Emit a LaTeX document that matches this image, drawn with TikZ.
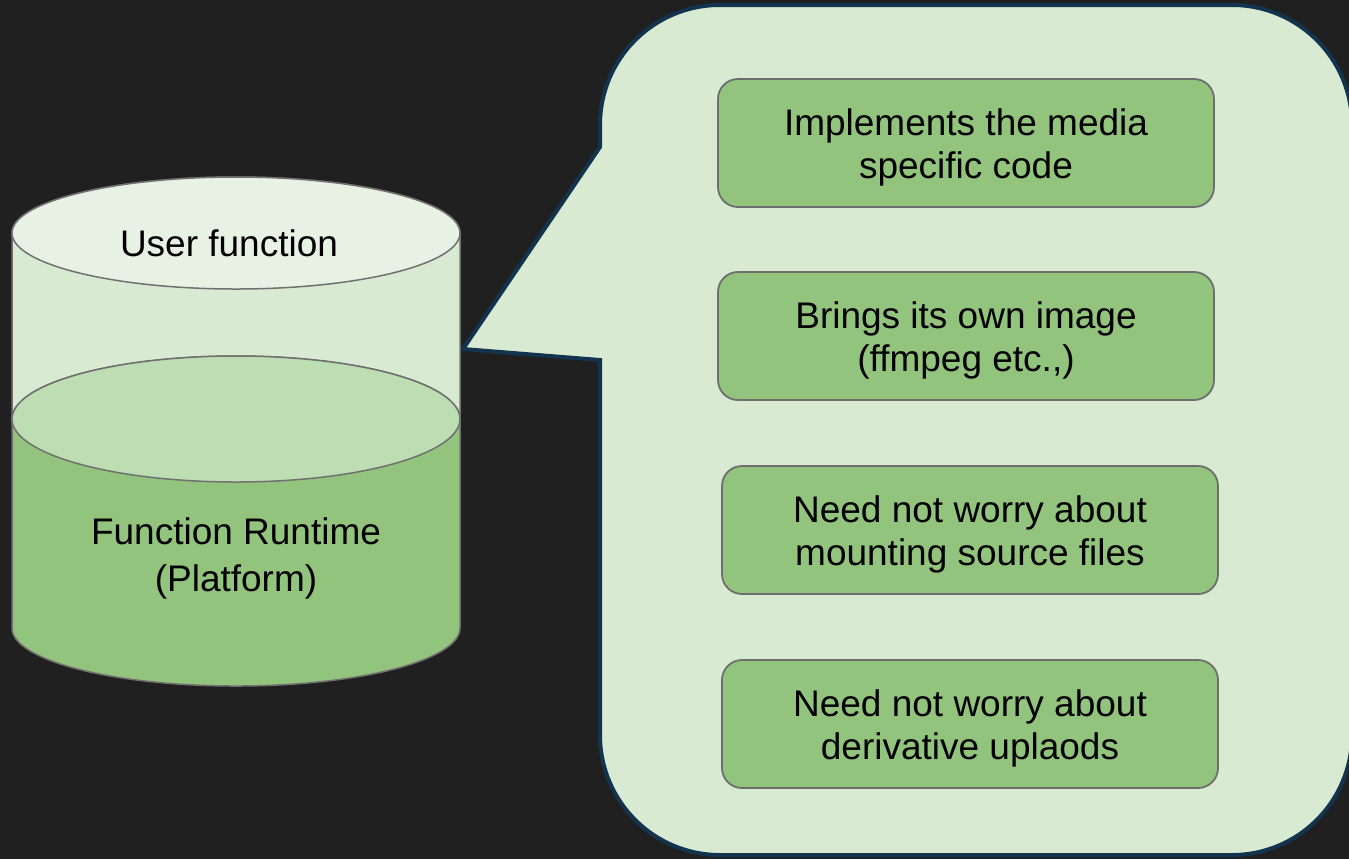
\documentclass[tikz,border=0pt]{standalone}
\usepackage{fontspec}
\setmainfont{Liberation Sans}
\definecolor{bg}{RGB}{33,32,32}
\definecolor{topfill}{RGB}{232,242,228}
\definecolor{upfill}{RGB}{217,234,211}
\definecolor{midfill}{RGB}{189,221,178}
\definecolor{lowfill}{RGB}{147,196,125}
\definecolor{cylline}{RGB}{112,112,112}
\definecolor{callline}{RGB}{19,52,79}
\definecolor{boxline}{RGB}{110,110,110}
\tikzset{
  cyl/.style={draw=cylline, line width=0.75pt},
  lbl/.style={font=\fontsize{18.5pt}{21.5pt}\selectfont, align=center, text=black, inner sep=0pt},
  infobox/.style={draw=boxline, fill=lowfill, line width=0.9pt, rounded corners=10pt,
    minimum width=248pt, minimum height=64pt, inner sep=0pt},
}
\begin{document}
\begin{tikzpicture}[x=0.5pt,y=0.5pt]
\fill[bg] (0,0) rectangle (1349,-859);
\useasboundingbox (0,0) rectangle (1349,-859);
% callout
\path[fill=upfill, draw=callline, line width=2pt, line join=miter]
  (600,-147) -- (463,-349) -- (600,-360) -- (600,-735)
  arc[start angle=180, end angle=270, radius=60pt] -- (1232,-855)
  arc[start angle=270, end angle=360, radius=60pt] -- (1352,-125)
  arc[start angle=0, end angle=90, radius=60pt] -- (720,-5)
  arc[start angle=90, end angle=180, radius=60pt] -- cycle;
% upper cylinder
\path[cyl, fill=upfill] (12,-233) -- (12,-419)
  arc[start angle=180, end angle=360, x radius=112pt, y radius=31.5pt] -- (460,-233)
  arc[start angle=0, end angle=180, x radius=112pt, y radius=28pt] -- cycle;
\path[cyl, fill=topfill] (236,-233) ellipse[x radius=112pt, y radius=28pt];
% lower cylinder
\path[cyl, fill=lowfill] (12,-419) -- (12,-628)
  arc[start angle=180, end angle=360, x radius=112pt, y radius=29pt] -- (460,-419)
  arc[start angle=0, end angle=180, x radius=112pt, y radius=31.5pt] -- cycle;
\path[cyl, fill=midfill] (236,-419) ellipse[x radius=112pt, y radius=31.5pt];
% labels
\node[lbl] (uf) at (229,-243) {User function};
\node[lbl, font=\fontsize{18.5pt}{23.5pt}\selectfont] (rt) at (236,-558) {Function Runtime\\(Platform)};
% boxes
\node[infobox] (b1) at (966,-143) {};
\node[infobox] (b2) at (966,-336) {};
\node[infobox] (b3) at (970,-530) {};
\node[infobox] (b4) at (970,-724) {};
\node[lbl] (t1) at ([yshift=-2.2pt]b1.center) {Implements the media\\specific code};
\node[lbl] (t2) at ([yshift=-2.2pt]b2.center) {Brings its own image\\(ffmpeg etc.,)};
\node[lbl] (t3) at ([yshift=-2.2pt]b3.center) {Need not worry about\\mounting source files};
\node[lbl] (t4) at ([yshift=-2.2pt]b4.center) {Need not worry about\\derivative uplaods};
\end{tikzpicture}
\end{document}
